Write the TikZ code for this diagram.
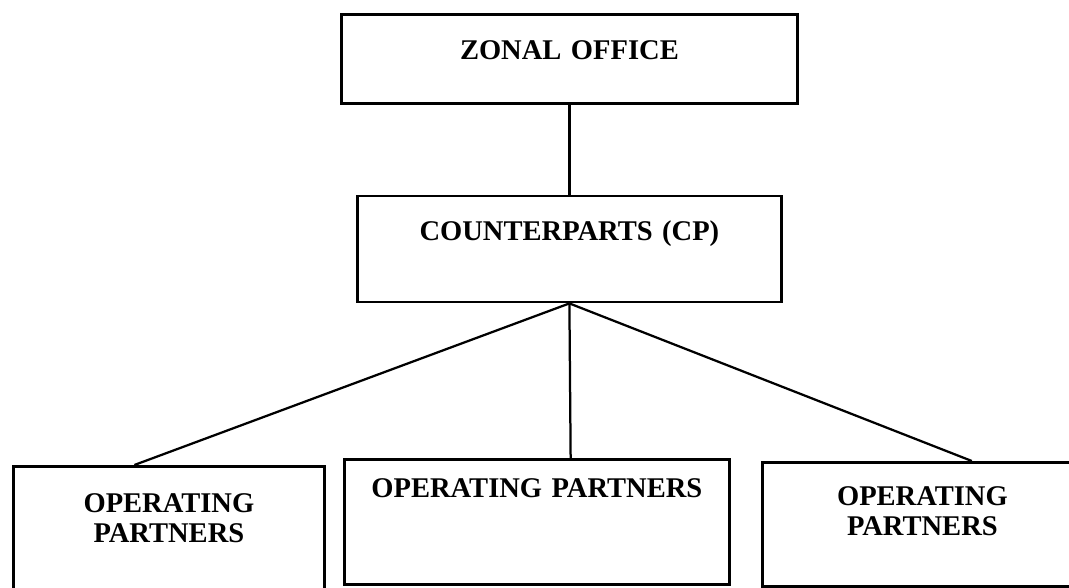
\documentclass[tikz,border=0pt]{standalone}
\usepackage{fontspec}
\setmainfont{Liberation Serif}
\usetikzlibrary{positioning}

\begin{document}
\begin{tikzpicture}[
		conn/.style     = {draw = black,
			line width     = 1.6pt},
		blockK/.style   = {draw = black,
			rectangle,
			text centered,
			inner sep      = 0pt,
			font = \fontsize{20.3}{21.3}\selectfont\bfseries,
			line width     = 2pt}]
		
		\useasboundingbox (0,0) rectangle (26.725,14.7);
		
		\node[blockK, anchor=north west, text width=11.4cm,
			text height=1.13cm, text depth=1.09cm] (Zonal) at (8.5,14.375)
		{ ZONAL OFFICE };
		
		\node[blockK, text width=10.6cm,
			text height=1.11cm, text depth=1.54cm] (CP) [below=2.25cm of Zonal]
		{ COUNTERPARTS (CP) };
		
		\node[blockK, anchor=north west, text width=7.775cm,
			text height=1.16cm, text depth=2.09cm] (OPl) at (0.3,3.075)
		{ OPERATING \\ PARTNERS };
		
		\node[blockK, anchor=north west, text width=9.625cm,
			text height=0.96cm, text depth=2.17cm] (OPm) at (8.575,3.25)
		{ OPERATING PARTNERS };
		
		\node[blockK, anchor=north west, text width=8.0cm,
			text height=1.08cm, text depth=2.02cm] (OPr) at (19.025,3.175)
		{ OPERATING \\ PARTNERS };
		
		\path (OPl.north west) -- (OPl.north east) coordinate[pos=0.39]  (l0);
		\path (OPm.north west) -- (OPm.north east) coordinate[pos=0.587] (m0);
		\path (OPr.north west) -- (OPr.north east) coordinate[pos=0.653] (r0);
		
		\draw[conn] (Zonal.south) -- (CP.north);
		\draw[conn] (CP.south) -- (l0);
		\draw[conn] (CP.south) -- (m0);
		\draw[conn] (CP.south) -- (r0);
		
	\end{tikzpicture}
\end{document}
